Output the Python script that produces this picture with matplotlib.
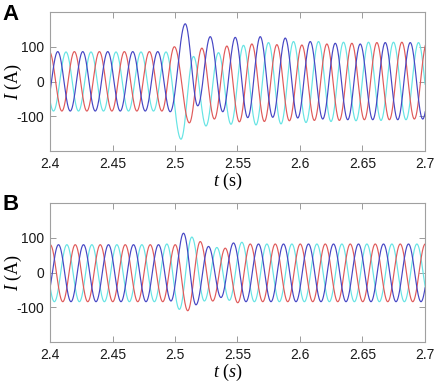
import numpy as np
import matplotlib
matplotlib.use('Agg')
import matplotlib.pyplot as plt

plt.rcParams['font.family'] = 'Liberation Sans'
plt.rcParams['mathtext.fontset'] = 'custom'
plt.rcParams['mathtext.rm'] = 'Liberation Serif'
plt.rcParams['mathtext.it'] = 'Liberation Serif:italic'
plt.rcParams['axes.unicode_minus'] = False

# half period of the 50 Hz waveform, and extremum values
half_period = 0.01
fault_time = 2.5

# panel A: first extremum time, phase shift after the fault, extremum values
a_shift = 0.002
a_blue_t0 = 2.3962
a_blue = [-85, 86, -85, 86, -85, 86, -85, 86, -85, 86, -87, 166, -70, 129, -87, 127,
          -104, 129, -103, 125, -105, 115, -108, 110, -110, 108, -110, 112, -110, 112,
          -108, 112, -110]
a_cyan_t0 = 2.3928
a_cyan = [85, -85, 85, -85, 85, -85, 85, -85, 85, -85, 85, -166, 72, -128, 83, -123,
          104, -125, 112, -122, 115, -118, 115, -115, 113, -113, 113, -112, 113, -110,
          112, -110, 110]
a_red_t0 = 2.3895
a_red = [-85, 86, -85, 86, -85, 86, -85, 86, -85, 86, -85, 100, -119, 96, -108, 102,
         -116, 108, -115, 106, -113, 105, -112, 108, -112, 110, -110, 112, -110, 113,
         -108, 112, -110]

# panel B
b_shift = 0.0
b_blue_t0 = 2.3968
b_blue = [-84, 80, -84, 80, -84, 80, -84, 80, -84, 80, -82, 113, -93, 75, -72, 85,
          -84, 82, -84, 82, -84, 82, -84, 82, -84, 82, -84, 82, -84, 82, -84, 82, -84]
b_cyan_t0 = 2.3935
b_cyan = [80, -84, 80, -84, 80, -84, 80, -84, 80, -84, 82, -106, 102, -82, 72, -80,
          87, -84, 82, -84, 82, -84, 82, -84, 82, -84, 82, -84, 82, -84, 82, -84, 82]
b_red_t0 = 2.3902
b_red = [-84, 80, -84, 80, -84, 80, -84, 80, -84, 80, -84, 80, -110, 89, -82, 70,
         -87, 82, -84, 82, -84, 82, -84, 82, -84, 82, -84, 82, -84, 82, -84, 82, -84]

xticks = [2.4, 2.45, 2.5, 2.55, 2.6, 2.65, 2.7]
xticklabels = ['2.4', '2.45', '2.5', '2.55', '2.6', '2.65', '2.7']
yticks = [-100, 0, 100]
yticklabels = ['-100', '0', '100']

c_blue = '#4646c4'
c_red = '#e05a5a'
c_cyan = '#66e4e4'


def wave(t0, vals, shift):
    # join successive extrema with half-cosine segments
    te = t0 + half_period*np.arange(len(vals))
    te = np.where(te > fault_time, te + shift, te)
    ts, ys = [], []
    for k in range(len(vals) - 1):
        s = np.linspace(0, 1, 40, endpoint=False)
        ts.append(te[k] + s*(te[k+1] - te[k]))
        ys.append((vals[k] + vals[k+1])/2 + (vals[k] - vals[k+1])/2*np.cos(np.pi*s))
    return np.concatenate(ts), np.concatenate(ys)


W, H = 436, 382
fig = plt.figure(figsize=(W/100, H/100), dpi=100)

panels = [
    ('A', 12, 151, a_shift, [(a_cyan_t0, a_cyan, c_cyan), (a_red_t0, a_red, c_red),
                             (a_blue_t0, a_blue, c_blue)], r'$t$ (s)', 4),
    ('B', 203, 342, b_shift, [(b_cyan_t0, b_cyan, c_cyan), (b_red_t0, b_red, c_red),
                              (b_blue_t0, b_blue, c_blue)], r'$t$ ($s$)', 194),
]

for letter, top, bot, shift, series, xlab, ly in panels:
    ax = fig.add_axes([50/W, 1 - bot/H, 375/W, (bot - top)/H])
    for t0, vals, col in series:
        t, y = wave(t0, vals, shift)
        ax.plot(t, y, color=col, lw=0.85)
    ax.set_xlim(2.4, 2.7)
    ax.set_ylim(-200, 200)
    ax.set_xticks(xticks)
    ax.set_xticklabels(xticklabels)
    ax.set_yticks(yticks)
    ax.set_yticklabels(yticklabels)
    ax.tick_params(direction='in', length=4, width=0.6, color='#8c8c8c',
                   top=True, right=True, labelsize=10, labelcolor='#1a1a1a', pad=4)
    for sp in ax.spines.values():
        sp.set_color('#a0a0a0')
        sp.set_linewidth(0.8)
    ax.set_ylabel(r'$I$ (A)', fontsize=13, family='Liberation Serif')
    ax.yaxis.set_label_coords(-0.07, 0.5)
    ax.set_xlabel(xlab, fontsize=13, family='Liberation Serif', va='top')
    ax.xaxis.set_label_coords(0.475, -0.14)
    fig.text(2/W, 1 - ly/H, letter, fontsize=16, fontweight='bold', va='top', ha='left')

fig.savefig('out.png', dpi=100)
